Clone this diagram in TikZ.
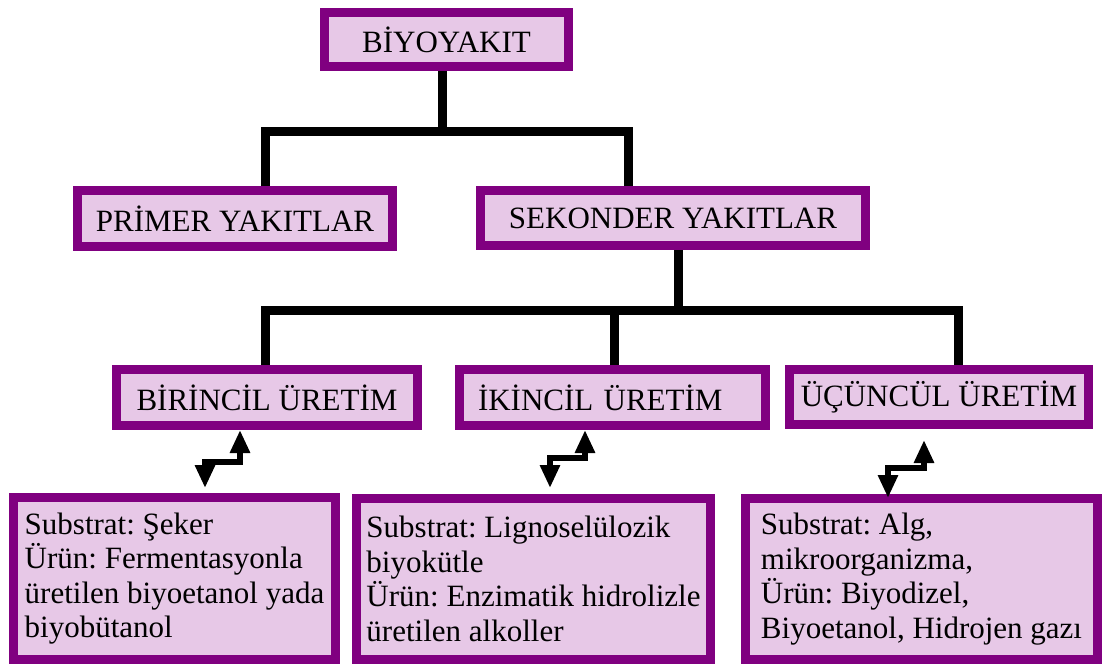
\documentclass[tikz,border=0pt]{standalone}
\usepackage{fontspec}
\setmainfont{Liberation Serif}
\usetikzlibrary{arrows.meta}
\definecolor{mor}{RGB}{128,0,128}
\definecolor{pembe}{RGB}{231,200,231}

\begin{document}
\begin{tikzpicture}[x=1pt, y=-1pt,
  kutu/.style={shape=rectangle, draw=mor, fill=pembe, line width=9pt, inner sep=0pt, font=\fontsize{31}{34.5}\selectfont\frenchspacing},
  hat/.style={draw=black, line width=9pt},
  cift/.style={{Triangle[width=19pt,length=23pt]}-{Triangle[width=19pt,length=23pt]}, line width=6pt}]
\useasboundingbox (0,0) rectangle (1102,664);

\node [kutu, minimum width=244pt, minimum height=54pt] (biyoyakit) at (446.5,39.5) {BİYOYAKIT};
\node [kutu, minimum width=315pt, minimum height=56pt] (primer) at (235,218.5) {PRİMER YAKITLAR};
\node [kutu, minimum width=385pt, minimum height=55pt] (sekonder) at (673,218) {SEKONDER YAKITLAR};
\node [kutu, minimum width=301pt, minimum height=56pt] (birincil) at (267,397.5) {BİRİNCİL ÜRETİM};
\node [kutu, minimum width=306pt, minimum height=56pt, text width=269pt, inner xsep=18.5pt, align=left] (ikincil) at (612.5,397.5) {İKİNCİL ÜRETİM};
\node [kutu, minimum width=299pt, minimum height=55pt] (ucuncul) at (939,397) {ÜÇÜNCÜL ÜRETİM};

\node [kutu, minimum width=322pt, minimum height=162pt, align=left] (alt1) at (174.5,578.5) {Substrat: Şeker\\Ürün: Fermentasyonla\\üretilen biyoetanol yada\\biyobütanol};
\node [kutu, minimum width=354pt, minimum height=161pt, align=left] (alt2) at (533.5,579) {Substrat: Lignoselülozik\\biyokütle\\Ürün: Enzimatik hidrolizle\\üretilen alkoller};
\node [kutu, minimum width=352pt, minimum height=161pt, align=left] (alt3) at (921.5,579) {Substrat: Alg,\\mikroorganizma,\\Ürün: Biyodizel,\\Biyoetanol, Hidrojen gazı};

% tree lines
\coordinate (kol1) at (442,131);
\coordinate (kol2) at (678,310);
\draw [hat] (biyoyakit.south -| kol1) -- (kol1);
\draw [hat] ([xshift=30pt]primer.north) |- ([xshift=-45pt]sekonder.north |- kol1) -- ([xshift=-45pt]sekonder.north);
\draw [hat] (sekonder.south -| kol2) -- (kol2);
\draw [hat] ([xshift=-2pt]birincil.north) |- ([xshift=19pt]ucuncul.north |- kol2) -- ([xshift=19pt]ucuncul.north);
\draw [hat] ([xshift=1.5pt]ikincil.north) -- ([xshift=1.5pt]ikincil.north |- kol2);

% zigzag arrows
\draw [cift] ([xshift=-27pt]birincil.south) -- ++(0,32) -| ([xshift=30.5pt,yshift=5pt]alt1.north);
\draw [cift] ([xshift=-27.5pt]ikincil.south) -- ++(0,28) -| ([xshift=16.5pt,yshift=6pt]alt2.north);
\draw [cift] ([xshift=-15pt,yshift=-11pt]ucuncul.south) -- ++(0,28) -| ([xshift=-33.5pt,yshift=-4pt]alt3.north);
\end{tikzpicture}
\end{document}
